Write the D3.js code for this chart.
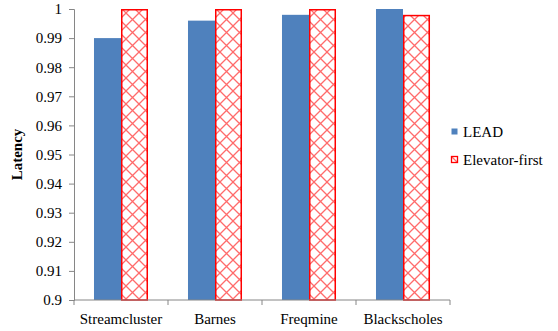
<!DOCTYPE html>
<html>
<head>
<meta charset="utf-8">
<script src="https://cdn.jsdelivr.net/npm/d3@7"></script>
</head>
<body style="margin:0;background:#fff">
<svg id="chart" width="558" height="331"></svg>
<script>
// Benchmarks and normalized latency per scheme
const categories = ["Streamcluster", "Barnes", "Freqmine", "Blackscholes"];
const seriesNames = ["LEAD", "Elevator-first"];
const leadValues = [0.990, 0.996, 0.998, 1.000];
const elevatorValues = [1.000, 1.000, 1.000, 0.998];
const yTicks = [0.9, 0.91, 0.92, 0.93, 0.94, 0.95, 0.96, 0.97, 0.98, 0.99, 1];

const FONT = '"Liberation Serif"';
const svg = d3.select("#chart");
const margin = { left: 74, right: 108, top: 9, bottom: 31 };
const W = 558, H = 331;

const x = d3.scaleBand().domain(categories).range([margin.left, W - margin.right]);
const inner = d3.scaleBand().domain(seriesNames).range([0, x.bandwidth()]).paddingInner(0).paddingOuter(0.74);
const y = d3.scaleLinear().domain([0.9, 1]).range([H - margin.bottom, margin.top]);

// Diamond lattice fill for the second series
const defs = svg.append("defs");
const pat = defs.append("pattern")
  .attr("id", "lattice").attr("patternUnits", "userSpaceOnUse")
  .attr("width", 13).attr("height", 13);
pat.append("rect").attr("width", 13).attr("height", 13).attr("fill", "#fff");
pat.append("path").attr("d", "M0,0L13,13M13,0L0,13M-1,12L1,14M12,-1L14,1")
  .attr("stroke", "#ff6b6b").attr("stroke-width", 1.3).attr("fill", "none");

const rows = categories.map((c, i) => ({ cat: c, vals: [leadValues[i], elevatorValues[i]] }));

const groups = svg.append("g").selectAll("g").data(rows).join("g")
  .attr("transform", d => `translate(${x(d.cat)},0)`);

groups.append("rect")
  .attr("x", inner("LEAD")).attr("width", inner.bandwidth())
  .attr("y", d => y(d.vals[0])).attr("height", d => y(0.9) - y(d.vals[0]))
  .attr("fill", "#4f81bd");

groups.append("rect")
  .attr("x", inner("Elevator-first") + 0.75).attr("width", inner.bandwidth() - 1.5)
  .attr("y", d => y(d.vals[1]) + 0.75).attr("height", d => y(0.9) - y(d.vals[1]) - 0.75)
  .attr("fill", "url(#lattice)").attr("stroke", "#ff0000").attr("stroke-width", 1.5);

// Y axis
const yAxis = svg.append("g").attr("transform", `translate(${margin.left},0)`)
  .call(d3.axisLeft(y).tickValues(yTicks).tickFormat(d3.format("")).tickSize(5).tickPadding(7));
yAxis.attr("font-family", FONT);
yAxis.select(".domain").attr("stroke", "#868686");
yAxis.selectAll(".tick line").attr("stroke", "#868686");
yAxis.selectAll(".tick text").attr("font-size", 15).attr("fill", "#000")
  .style("font-family", FONT);

// X axis with boundary ticks between groups
const xAxisG = svg.append("g").attr("transform", `translate(0,${y(0.9)})`);
xAxisG.append("line").attr("x1", margin.left).attr("x2", W - margin.right)
  .attr("stroke", "#868686");
const bounds = categories.map(c => x(c)).concat([x(categories[categories.length - 1]) + x.bandwidth()]);
xAxisG.selectAll("line.b").data(bounds).join("line").attr("class", "b")
  .attr("x1", d => d).attr("x2", d => d).attr("y1", 0).attr("y2", 5)
  .attr("stroke", "#868686");
xAxisG.selectAll("text").data(categories).join("text")
  .attr("x", d => x(d) + x.bandwidth() / 2).attr("y", 24)
  .attr("text-anchor", "middle").attr("font-size", 15).attr("fill", "#000")
  .style("font-family", FONT)
  .text(d => d);

// Y axis title
svg.append("text")
  .attr("transform", `translate(22,${(margin.top + y(0.9)) / 2}) rotate(-90)`)
  .attr("text-anchor", "middle").attr("font-size", 15).attr("font-weight", "bold")
  .style("font-family", FONT)
  .text("Latency");

// Legend
const legend = svg.append("g").attr("transform", "translate(451,0)");
const legendRows = [
  { name: seriesNames[0], y: 132 },
  { name: seriesNames[1], y: 160 }
];
legend.selectAll("rect").data(legendRows).join("rect")
  .attr("x", 0.5).attr("y", d => d.y - 3.5).attr("width", 6).attr("height", 6)
  .attr("fill", (d, i) => i === 0 ? "#4f81bd" : "url(#lattice)")
  .attr("stroke", (d, i) => i === 0 ? "none" : "#ff0000")
  .attr("stroke-width", 1.3);
legend.selectAll("text").data(legendRows).join("text")
  .attr("x", 12).attr("y", d => d.y + 5).attr("font-size", 15).attr("fill", "#000")
  .style("font-family", FONT)
  .text(d => d.name);
</script>
</body>
</html>
